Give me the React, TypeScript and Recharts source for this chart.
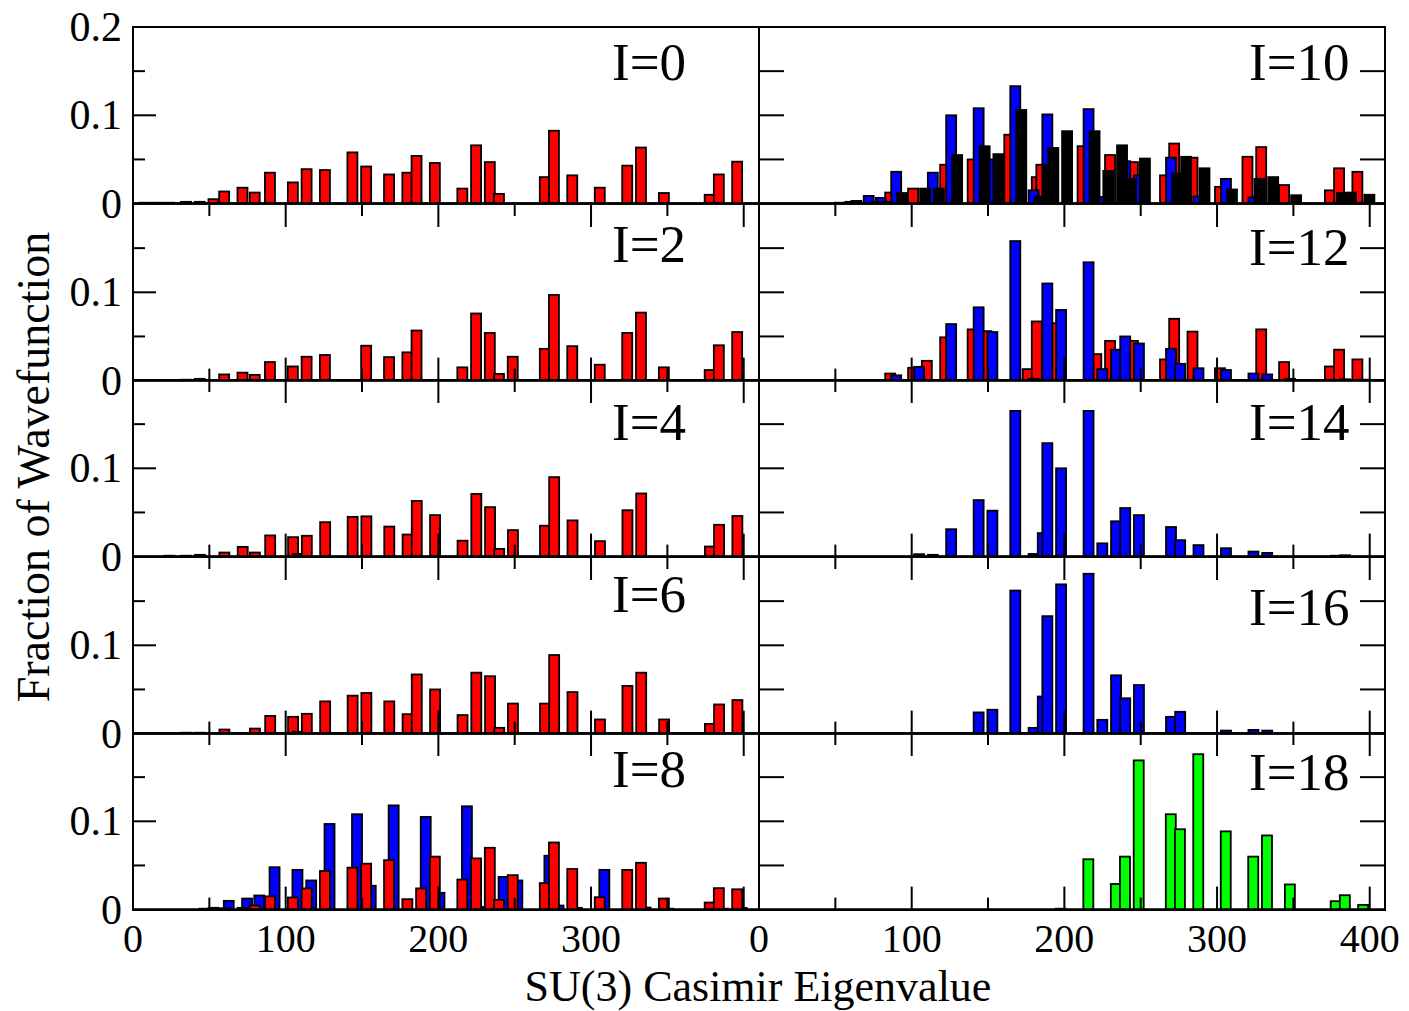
import React from 'react';
import { ComposedChart, Bar, XAxis, YAxis } from 'recharts';

const FONT = '"Liberation Serif", "Times New Roman", serif';
const COLORS: Record<string, string> = {
  red: '#ff0000',
  blue: '#0000ff',
  black: '#000000',
  green: '#00ff00',
};

// SU(3) Casimir eigenvalue positions and fractions
const I0_X = [8, 16, 24, 35, 44, 53, 60, 72, 80, 90, 105, 114, 126, 144, 153, 168, 180, 186, 198, 216, 225, 234, 240, 270, 276, 288, 306, 324, 333, 348, 378, 384, 396];
const I0_RED = [0.001, 0.001, 0.001, 0.002, 0.002, 0.005, 0.0137, 0.018, 0.0125, 0.035, 0.024, 0.039, 0.038, 0.058, 0.042, 0.033, 0.035, 0.054, 0.046, 0.017, 0.066, 0.047, 0.011, 0.03, 0.0825, 0.032, 0.018, 0.043, 0.0635, 0.012, 0.01, 0.033, 0.0475];

const I2_X = [35, 44, 60, 72, 80, 90, 105, 114, 126, 153, 168, 180, 186, 216, 225, 234, 240, 249, 270, 276, 288, 306, 324, 333, 348, 378, 384, 396];
const I2_RED = [0.001, 0.002, 0.007, 0.009, 0.0065, 0.021, 0.016, 0.027, 0.029, 0.0395, 0.0266, 0.032, 0.0567, 0.015, 0.076, 0.054, 0.0076, 0.027, 0.036, 0.097, 0.039, 0.018, 0.054, 0.077, 0.015, 0.012, 0.04, 0.055];

const I4_X = [24, 35, 44, 60, 72, 80, 90, 105, 108, 114, 126, 144, 153, 168, 180, 186, 198, 216, 225, 234, 240, 249, 270, 276, 288, 306, 324, 333, 378, 384, 396];
const I4_RED = [0.001, 0.001, 0.002, 0.0046, 0.011, 0.0046, 0.024, 0.022, 0.003, 0.0236, 0.039, 0.045, 0.0456, 0.034, 0.025, 0.063, 0.047, 0.018, 0.071, 0.056, 0.0087, 0.03, 0.035, 0.09, 0.041, 0.0175, 0.0525, 0.0715, 0.0114, 0.036, 0.046];

const I6_X = [35, 44, 60, 80, 90, 105, 108, 114, 126, 144, 153, 168, 180, 186, 198, 216, 225, 234, 240, 249, 270, 276, 288, 306, 324, 333, 348, 378, 384, 396];
const I6_RED = [0.001, 0.001, 0.0046, 0.0057, 0.02, 0.019, 0.002, 0.0224, 0.0365, 0.043, 0.046, 0.0365, 0.022, 0.067, 0.05, 0.021, 0.069, 0.065, 0.0065, 0.034, 0.034, 0.089, 0.047, 0.016, 0.054, 0.069, 0.016, 0.011, 0.033, 0.038];

const I8_BLUE_X = [44, 60, 72, 80, 90, 105, 114, 126, 144, 153, 168, 189, 198, 216, 225, 240, 249, 270, 276, 288, 306, 333, 348, 384, 396];
const I8_BLUE = [0.001, 0.0099, 0.0125, 0.016, 0.048, 0.045, 0.033, 0.097, 0.108, 0.027, 0.118, 0.105, 0.019, 0.117, 0.003, 0.037, 0.033, 0.061, 0.0046, 0.002, 0.045, 0.0023, 0.001, 0.001, 0.002];
const I8_RED_X = [53, 60, 72, 80, 90, 105, 114, 126, 144, 153, 168, 180, 189, 198, 216, 225, 234, 240, 249, 270, 276, 288, 306, 324, 333, 348, 378, 384, 396];
const I8_RED = [0.002, 0.0015, 0.002, 0.0046, 0.015, 0.0137, 0.024, 0.0437, 0.0475, 0.052, 0.056, 0.0118, 0.024, 0.06, 0.034, 0.058, 0.07, 0.011, 0.039, 0.03, 0.076, 0.046, 0.014, 0.045, 0.053, 0.0125, 0.008, 0.0243, 0.023];

const I10_RED_X = [90, 105, 126, 144, 168, 186, 189, 216, 234, 249, 270, 276, 288, 306, 324, 333, 348, 378, 384, 396];
const I10_RED = [0.0125, 0.017, 0.044, 0.05, 0.078, 0.03, 0.044, 0.065, 0.055, 0.047, 0.032, 0.068, 0.052, 0.019, 0.053, 0.064, 0.021, 0.015, 0.04, 0.036];
const I10_BLUE_X = [53, 60, 72, 80, 90, 114, 126, 144, 153, 168, 180, 189, 216, 225, 240, 249, 270, 288, 306, 324, 396];
const I10_BLUE = [0.001, 0.002, 0.0087, 0.0065, 0.036, 0.035, 0.1, 0.108, 0.05, 0.133, 0.015, 0.101, 0.107, 0.0075, 0.048, 0.032, 0.052, 0.008, 0.028, 0.007, 0.001];
const I10_BLACK_X = [60, 72, 80, 90, 105, 114, 126, 144, 153, 168, 180, 186, 189, 198, 216, 225, 234, 240, 249, 270, 276, 288, 306, 324, 333, 348, 378, 384, 396];
const I10_BLACK = [0.003, 0.002, 0.002, 0.012, 0.017, 0.017, 0.055, 0.065, 0.056, 0.106, 0.008, 0.044, 0.063, 0.082, 0.082, 0.037, 0.066, 0.028, 0.051, 0.034, 0.053, 0.04, 0.016, 0.028, 0.03, 0.0095, 0.012, 0.0125, 0.01];

const I12_RED_X = [90, 105, 114, 126, 144, 153, 180, 186, 198, 225, 234, 249, 270, 276, 288, 306, 333, 348, 378, 384, 396];
const I12_RED = [0.008, 0.0145, 0.0224, 0.049, 0.058, 0.056, 0.013, 0.067, 0.065, 0.03, 0.045, 0.045, 0.024, 0.07, 0.0555, 0.014, 0.058, 0.021, 0.016, 0.035, 0.024];
const I12_BLUE_X = [90, 105, 126, 144, 153, 168, 180, 189, 198, 216, 225, 234, 240, 249, 270, 276, 288, 306, 324, 333, 348, 384, 396];
const I12_BLUE = [0.006, 0.0156, 0.064, 0.083, 0.055, 0.158, 0.002, 0.11, 0.08, 0.134, 0.013, 0.035, 0.05, 0.042, 0.036, 0.019, 0.014, 0.012, 0.008, 0.007, 0.002, 0.0015, 0.001];

const I14_X = [105, 114, 126, 144, 153, 168, 180, 186, 189, 198, 216, 225, 234, 240, 249, 270, 276, 288, 306, 324, 333, 378, 384];
const I14_BLUE = [0.0027, 0.002, 0.031, 0.064, 0.052, 0.165, 0.003, 0.0266, 0.1285, 0.1, 0.165, 0.015, 0.04, 0.055, 0.047, 0.0335, 0.0186, 0.013, 0.0095, 0.0057, 0.0042, 0.001, 0.0015];

const I16_X = [144, 153, 168, 180, 186, 189, 198, 216, 225, 234, 240, 249, 270, 276, 306, 324, 333];
const I16_BLUE = [0.024, 0.027, 0.162, 0.0065, 0.042, 0.133, 0.169, 0.181, 0.0156, 0.066, 0.04, 0.055, 0.019, 0.0247, 0.0034, 0.0042, 0.0034];

const I18_X = [198, 216, 234, 240, 249, 270, 276, 288, 306, 324, 333, 348, 378, 384, 396];
const I18_GREEN = [0.001, 0.057, 0.029, 0.06, 0.169, 0.108, 0.091, 0.176, 0.0886, 0.06, 0.084, 0.0285, 0.0095, 0.0163, 0.0053];

const X_TICKS = [0, 50, 100, 150, 200, 250, 300, 350, 400];
const Y_TICKS = [0, 0.05, 0.1, 0.15, 0.2];

type Series = { color: string; xs: number[]; ys: number[]; dx: number };
type Panel = { label: string; col: number; row: number; labelDy: number; series: Series[] };

// dx = pixel shift of a bar set inside its group (drawing order = list order)
const PANELS: Panel[] = [
  { label: 'I=0', col: 0, row: 0, labelDy: 53, series: [{ color: 'red', xs: I0_X, ys: I0_RED, dx: 0 }] },
  { label: 'I=2', col: 0, row: 1, labelDy: 58, series: [{ color: 'red', xs: I2_X, ys: I2_RED, dx: 0 }] },
  { label: 'I=4', col: 0, row: 2, labelDy: 60, series: [{ color: 'red', xs: I4_X, ys: I4_RED, dx: 0 }] },
  { label: 'I=6', col: 0, row: 3, labelDy: 55, series: [{ color: 'red', xs: I6_X, ys: I6_RED, dx: 0 }] },
  {
    label: 'I=8', col: 0, row: 4, labelDy: 54, series: [
      { color: 'blue', xs: I8_BLUE_X, ys: I8_BLUE, dx: 4.6 },
      { color: 'red', xs: I8_RED_X, ys: I8_RED, dx: 0 },
    ],
  },
  {
    label: 'I=10', col: 1, row: 0, labelDy: 53, series: [
      { color: 'red', xs: I10_RED_X, ys: I10_RED, dx: -6 },
      { color: 'blue', xs: I10_BLUE_X, ys: I10_BLUE, dx: 0 },
      { color: 'black', xs: I10_BLACK_X, ys: I10_BLACK, dx: 6 },
    ],
  },
  {
    label: 'I=12', col: 1, row: 1, labelDy: 61, series: [
      { color: 'red', xs: I12_RED_X, ys: I12_RED, dx: -6 },
      { color: 'blue', xs: I12_BLUE_X, ys: I12_BLUE, dx: 0 },
    ],
  },
  { label: 'I=14', col: 1, row: 2, labelDy: 60, series: [{ color: 'blue', xs: I14_X, ys: I14_BLUE, dx: 0 }] },
  { label: 'I=16', col: 1, row: 3, labelDy: 68, series: [{ color: 'blue', xs: I16_X, ys: I16_BLUE, dx: 0 }] },
  { label: 'I=18', col: 1, row: 4, labelDy: 57, series: [{ color: 'green', xs: I18_X, ys: I18_GREEN, dx: 0 }] },
];

// layout
const PLOT_LEFT = [133, 759];
const PLOT_W = 626;
const PLOT_TOP = 27;
const ROW_H = 176.6;
const LABEL_X = [612, 1249];
const BAR_W = 10;

function buildRows(series: Series[]) {
  const map = new Map<number, any>();
  series.forEach((s, i) => {
    s.xs.forEach((x, j) => {
      const row = map.get(x) ?? { x };
      row['s' + i] = s.ys[j];
      map.set(x, row);
    });
  });
  return [...map.values()].sort((a, b) => a.x - b.x);
}

const barShape = (key: string, color: string, dx: number) => (props: any) => {
  const { x, y, width, height, payload } = props;
  if (payload?.[key] == null || !Number.isFinite(y) || !Number.isFinite(height)) return <g />;
  const cx = x + width / 2 + dx;
  return (
    <rect x={cx - BAR_W / 2} y={y} width={BAR_W} height={Math.max(height, 0)} fill={color} stroke="#000" strokeWidth={1.8} />
  );
};

const makeXTick = (row: number, col: number) => (props: any) => {
  const { x, y, payload } = props;
  const v = payload.value;
  const major = v % 100 === 0;
  const len = major ? 23 : 12;
  const marks = row > 0 && v > 0;
  const label = row === 4 && major && (col === 1 || v < 400);
  return (
    <g>
      {marks && <line x1={x} x2={x} y1={y} y2={y - len} stroke="#000" strokeWidth={2} />}
      {marks && <line x1={x} x2={x} y1={y - ROW_H} y2={y - ROW_H + len} stroke="#000" strokeWidth={2} />}
      {label && (
        <text x={x} y={y + 42} textAnchor="middle" fontFamily={FONT} fontSize={40} fill="#000">
          {v}
        </text>
      )}
    </g>
  );
};

const makeYTick = (row: number, col: number) => (props: any) => {
  const { x, y, payload } = props;
  const v = payload.value;
  const inner = v > 0.001 && v < 0.199;
  const major = Math.abs(v - 0.1) < 1e-6;
  const len = col === 1 ? 25 : major ? 23 : 12;
  const label = col === 0 && (v === 0 || major || (row === 0 && v === 0.2));
  return (
    <g>
      {inner && <line x1={x} x2={x + len} y1={y} y2={y} stroke="#000" strokeWidth={2} />}
      {inner && col === 1 && <line x1={x + PLOT_W} x2={x + PLOT_W - len} y1={y} y2={y} stroke="#000" strokeWidth={2} />}
      {label && (
        <text x={x - 11} y={y} textAnchor="end" dominantBaseline="central" fontFamily={FONT} fontSize={42} fill="#000">
          {String(v)}
        </text>
      )}
    </g>
  );
};

function PanelChart({ panel }: { panel: Panel }) {
  const { col, row } = panel;
  const top = PLOT_TOP + row * ROW_H;
  const mTop = 30;
  const mBottom = row === 4 ? 70 : 30;
  const mLeft = col === 0 ? 133 : 45;
  const mRight = col === 0 ? 0 : 24;
  const rows = buildRows(panel.series);
  // axes are 1px thick bands, so the margins give back that pixel
  return (
    <div style={{ position: 'absolute', left: PLOT_LEFT[col] - mLeft, top: top - mTop }}>
      <ComposedChart
        width={mLeft + PLOT_W + mRight}
        height={mTop + ROW_H + mBottom}
        data={rows}
        margin={{ top: mTop, right: mRight, bottom: mBottom - 1, left: mLeft - 1 }}
      >
        {panel.series.map((s, i) => (
          <XAxis
            key={'ax' + i}
            xAxisId={'s' + i}
            type="number"
            dataKey="x"
            domain={[0, 410]}
            allowDataOverflow
            hide={i > 0}
            height={1}
            ticks={X_TICKS}
            interval={0}
            tickSize={0}
            tickMargin={0}
            tickLine={false}
            axisLine={i === 0 ? { stroke: '#000', strokeWidth: 2.5 } : false}
            tick={i === 0 ? makeXTick(row, col) : false}
          />
        ))}
        <YAxis
          type="number"
          domain={[0, 0.2]}
          allowDataOverflow
          width={1}
          ticks={Y_TICKS}
          interval={0}
          tickSize={0}
          tickMargin={0}
          tickLine={false}
          axisLine={false}
          tick={makeYTick(row, col)}
        />
        {panel.series.map((s, i) => (
          <Bar
            key={'b' + i}
            xAxisId={'s' + i}
            dataKey={'s' + i}
            barSize={11}
            fill={COLORS[s.color]}
            isAnimationActive={false}
            shape={barShape('s' + i, COLORS[s.color], s.dx)}
          />
        ))}
      </ComposedChart>
    </div>
  );
}

export default function App() {
  return (
    <div style={{ position: 'absolute', left: 0, top: 0, width: 1409, height: 1011, background: '#fff' }}>
      {PANELS.map((p) => (
        <PanelChart key={p.label} panel={p} />
      ))}
      <svg width={1409} height={1011} style={{ position: 'absolute', left: 0, top: 0, pointerEvents: 'none' }}>
        {PANELS.map((p) => (
          <g key={p.label}>
            <rect x={PLOT_LEFT[p.col]} y={PLOT_TOP + p.row * ROW_H} width={PLOT_W} height={ROW_H} fill="none" stroke="#000" strokeWidth={2} />
            <text x={LABEL_X[p.col]} y={PLOT_TOP + p.row * ROW_H + p.labelDy} fontFamily={FONT} fontSize={53} fill="#000">
              {p.label}
            </text>
          </g>
        ))}
        <text x={758} y={1001} textAnchor="middle" fontFamily={FONT} fontSize={44} fill="#000">
          SU(3) Casimir Eigenvalue
        </text>
        <text x={49} y={467} textAnchor="middle" transform="rotate(-90 49 467)" fontFamily={FONT} fontSize={46} fill="#000">
          Fraction of Wavefunction
        </text>
      </svg>
    </div>
  );
}
